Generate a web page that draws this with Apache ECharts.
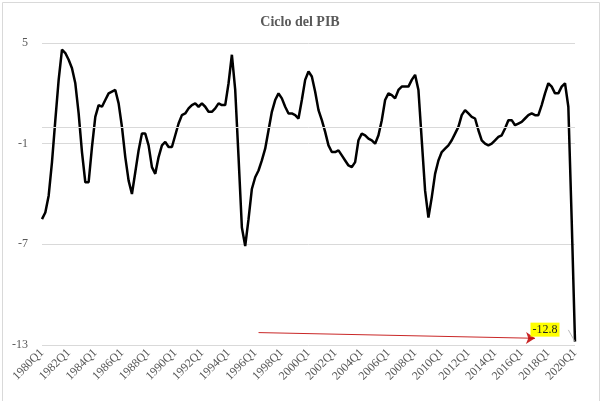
<!DOCTYPE html>
<html>
<head>
<meta charset="utf-8">
<script src="https://cdn.jsdelivr.net/npm/echarts@6/dist/echarts.min.js"></script>
<style>html,body{margin:0;padding:0;background:#fff}#chart{width:600px;height:401px}</style>
</head>
<body>
<div id="chart"></div>
<script>
// ciclo del PIB, trimestral 1980Q1 - 2020Q1
var years = [];
for (var y = 1980; y <= 2020; y++) { years.push(y); }
var quarters = [];
years.forEach(function(y){
	for (var q = 1; q <= 4; q++) {
		if (y === 2020 && q > 1) { break; }
		quarters.push(y + 'Q' + q);
	}
});

var ciclo = [
	-5.5, -5.1, -4.1, -2.1, 0.4, 2.8, 4.6, 4.4, 4.0, 3.5,
	2.6, 0.8, -1.5, -3.3, -3.3, -1.2, 0.6, 1.3, 1.2, 1.6,
	2.0, 2.1, 2.2, 1.4, 0.0, -1.8, -3.2, -4.0, -2.7, -1.4,
	-0.4, -0.4, -1.1, -2.4, -2.8, -1.8, -1.1, -0.9, -1.2, -1.2,
	-0.5, 0.2, 0.7, 0.8, 1.1, 1.3, 1.4, 1.2, 1.4, 1.2,
	0.9, 0.9, 1.1, 1.4, 1.3, 1.3, 2.6, 4.3, 2.2, -1.8,
	-6.0, -7.1, -5.5, -3.7, -3.0, -2.6, -2.0, -1.3, -0.2, 0.9,
	1.6, 2.0, 1.7, 1.2, 0.8, 0.8, 0.7, 0.5, 1.6, 2.8,
	3.3, 3.0, 2.1, 1.0, 0.4, -0.3, -1.1, -1.5, -1.5, -1.4,
	-1.7, -2.0, -2.3, -2.4, -2.1, -0.8, -0.4, -0.5, -0.7, -0.8,
	-1.0, -0.5, 0.4, 1.6, 2.0, 1.9, 1.7, 2.2, 2.4, 2.4,
	2.4, 2.8, 3.1, 2.2, -0.8, -3.8, -5.4, -4.2, -2.8, -2.0,
	-1.5, -1.3, -1.1, -0.8, -0.4, 0.0, 0.7, 1.0, 0.8, 0.6,
	0.5, -0.2, -0.8, -1.0, -1.1, -1.0, -0.8, -0.6, -0.5, -0.1,
	0.4, 0.4, 0.1, 0.2, 0.3, 0.5, 0.7, 0.8, 0.7, 0.7,
	1.3, 2.0, 2.6, 2.4, 2.0, 2.0, 2.4, 2.6, 1.2, -5.5,
	-12.8
];
var yTicks = [-13, -7, -1, 5];
var tendencia = [['1996Q2', -12.26], ['2017Q1', -12.6]];

var chart = echarts.init(document.getElementById('chart'));
var last = ciclo.length - 1;

chart.setOption({
	animation: false,
	title: {
		text: 'Ciclo del PIB', left: 'center', top: 10,
		textStyle: {fontFamily: 'Liberation Serif', fontSize: 14, fontWeight: 'bold', color: '#595959'}
	},
	grid: {left: 42, right: 25, top: 43, bottom: 56},
	xAxis: {
		type: 'category', data: quarters, boundaryGap: false,
		axisLine: {show: false}, axisTick: {show: false},
		axisLabel: {
			interval: 7, rotate: 45, color: '#595959',
			fontFamily: 'Liberation Serif', fontSize: 12, margin: 6
		}
	},
	yAxis: {
		type: 'value', min: -13, max: 5, interval: 6,
		axisLabel: {color: '#595959', fontFamily: 'Liberation Serif', fontSize: 12, margin: 14},
		axisLine: {show: false}, axisTick: {show: false},
		splitLine: {lineStyle: {color: '#d9d9d9'}}
	},
	series: [{
		type: 'line', data: ciclo, symbol: 'none',
		lineStyle: {color: '#000', width: 2.5},
		markLine: {
			silent: true, symbol: 'none',
			data: [
				{yAxis: 0, lineStyle: {color: '#d9d9d9', width: 1, type: 'solid'}},
				[{coord: tendencia[0], symbol: 'none',
				  lineStyle: {color: '#c00000', width: 1, type: 'solid', opacity: 0.85}},
				 {coord: tendencia[1], symbol: 'arrow', symbolSize: 9}],
				[{coord: [quarters[last - 2], -12.1], lineStyle: {color: '#a6a6a6', width: 0.8, type: 'solid'}},
				 {coord: [quarters[last], -12.8]}]
			],
			label: {show: false}
		},
		markPoint: {
			silent: true, symbol: 'circle', symbolSize: 1,
			itemStyle: {color: 'transparent'},
			data: [{
				coord: [quarters[last], ciclo[last]], value: ciclo[last],
				label: {
					show: true, position: 'left', offset: [-10, -12],
					formatter: '{c}', backgroundColor: '#ffff00',
					color: '#222', fontFamily: 'Liberation Serif', fontSize: 12, padding: [1, 2]
				}
			}]
		}
	}],
	graphic: [{
		type: 'rect', left: 0, top: 0,
		shape: {x: 0.5, y: 0.5, width: 597, height: 399},
		style: {fill: 'none', stroke: '#d9d9d9'}
	}]
});
</script>
</body>
</html>
